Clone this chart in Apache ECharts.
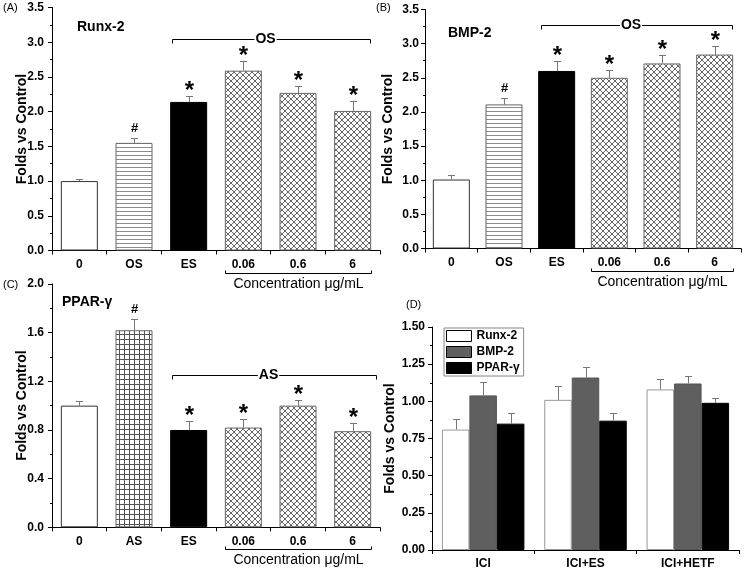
<!DOCTYPE html>
<html><head><meta charset="utf-8">
<script src="https://cdn.jsdelivr.net/npm/echarts@6/dist/echarts.min.js"></script>
<style>html,body{margin:0;padding:0;background:#fff}#c{width:746px;height:570px}</style>
</head><body><div id="c"></div>
<script>
const FONT = '"Liberation Sans", Arial, sans-serif';
// ---------- data ----------
const catsA = ['0', 'OS', 'ES', '0.06', '0.6', '6'];
const catsB = ['0', 'OS', 'ES', '0.06', '0.6', '6'];
const catsC = ['0', 'AS', 'ES', '0.06', '0.6', '6'];
const runx2Vals = [1.00, 1.55, 2.14, 2.59, 2.27, 2.01];
const runx2Err  = [0.03, 0.07, 0.09, 0.14, 0.10, 0.14];
const runx2Marks = ['', '#', '*', '*', '*', '*'];
const bmp2Vals = [1.01, 2.11, 2.60, 2.50, 2.71, 2.84];
const bmp2Err  = [0.07, 0.10, 0.15, 0.11, 0.12, 0.12];
const bmp2Marks = ['', '#', '*', '*', '*', '*'];
const pparVals = [1.00, 1.62, 0.80, 0.82, 1.00, 0.79];
const pparErr  = [0.04, 0.09, 0.07, 0.07, 0.05, 0.07];
const pparMarks = ['', '#', '*', '*', '*', '*'];
const catsD = ['ICI', 'ICI+ES', 'ICI+HETF'];
const namesD = ['Runx-2', 'BMP-2', 'PPAR-γ'];
const dRunx2 = [0.81, 1.01, 1.08];
const dRunx2Err = [0.07, 0.09, 0.07];
const dBmp2 = [1.04, 1.16, 1.12];
const dBmp2Err = [0.09, 0.07, 0.05];
const dPpar = [0.85, 0.87, 0.99];
const dPparErr = [0.07, 0.05, 0.03];
const yScaleA = {min: 0, max: 3.5, interval: 0.5, dec: 1};
const yScaleB = {min: 0, max: 3.5, interval: 0.5, dec: 1};
const yScaleC = {min: 0, max: 2.0, interval: 0.4, dec: 1};
const yScaleD = {min: 0, max: 1.5, interval: 0.25, dec: 2};
const bracketA = {from: 2, to: 5, y: 3.05, text: 'OS'};
const bracketB = {from: 2, to: 5, y: 3.27, text: 'OS'};
const bracketC = {from: 2, to: 5, y: 1.25, text: 'AS'};
const concLabel = 'Concentration μg/mL';
const concRange = {from: 3, to: 5};

// ---------- patterns ----------
function tile(w, h, draw) {
  const c = document.createElement('canvas'); c.width = w; c.height = h;
  const g = c.getContext('2d'); g.fillStyle = '#fff'; g.fillRect(0, 0, w, h); draw(g);
  return {image: c, repeat: 'repeat'};
}
const patHoriz = tile(4, 4, g => { g.fillStyle = '#8a8a8a'; g.fillRect(0, 3, 4, 1); });
const patGrid = tile(5, 5, g => { g.fillStyle = '#555'; g.fillRect(0, 4, 5, 1); g.fillRect(4, 0, 1, 5); });
const patCross = tile(6, 6, g => { g.fillStyle = '#666'; for (let i = 0; i < 6; i++) { g.fillRect(i, i, 1, 1); g.fillRect(5 - i, i, 1, 1); } });

function barStyles(secondPat) {
  return [
    {color: '#fff', borderColor: '#333', borderWidth: 1},
    {color: secondPat, borderColor: '#666', borderWidth: 1},
    {color: '#000', borderColor: '#000', borderWidth: 1},
    {color: patCross, borderColor: '#666', borderWidth: 1},
    {color: patCross, borderColor: '#666', borderWidth: 1},
    {color: patCross, borderColor: '#666', borderWidth: 1}
  ];
}

function barSeries(gi, vals, styles, bw) {
  return {type: 'bar', xAxisIndex: gi, yAxisIndex: gi, barWidth: bw, silent: true,
    data: vals.map((v, i) => ({value: v, itemStyle: styles[i]}))};
}

function errSeries(gi, vals, errs, marks, offPx) {
  return {type: 'custom', xAxisIndex: gi, yAxisIndex: gi, silent: true, clip: false, z: 5,
    data: vals.map((v, i) => [i, v, errs[i]]),
    renderItem(params, api) {
      const i = api.value(0), v = api.value(1), e = api.value(2);
      const b = api.coord([i, v]), t = api.coord([i, v + e]);
      const x = Math.round(b[0] + offPx) + 0.5, yt = Math.round(t[1]) + 0.5;
      const ch = [
        {type: 'line', shape: {x1: x, y1: b[1], x2: x, y2: yt}, style: {stroke: '#777', lineWidth: 1}},
        {type: 'line', shape: {x1: x - 3.5, y1: yt, x2: x + 3.5, y2: yt}, style: {stroke: '#777', lineWidth: 1}}
      ];
      const m = marks ? marks[params.dataIndex] : '';
      if (m === '*') ch.push({type: 'text', style: {text: '*', x: x, y: yt - 5, align: 'center', verticalAlign: 'middle', font: 'bold 24px ' + FONT, fill: '#000'}});
      else if (m) ch.push({type: 'text', style: {text: m, x: x, y: yt - 10, align: 'center', verticalAlign: 'middle', font: 'bold 13px ' + FONT, fill: '#000'}});
      return {type: 'group', children: ch};
    }};
}

function bracketSeries(gi, br, extR) {
  return {type: 'custom', xAxisIndex: gi, yAxisIndex: gi, silent: true, clip: false, z: 6,
    data: [[br.from, br.y]],
    renderItem(params, api) {
      const w = api.size([1, 0])[0];
      const p1 = api.coord([br.from, br.y]), p2 = api.coord([br.to, br.y]);
      const x1 = Math.round(p1[0] - 0.3 * w) + 0.5, x2 = Math.round(p2[0] + extR * w) + 0.5, y = Math.round(p1[1]) + 0.5;
      return {type: 'group', children: [
        {type: 'polyline', shape: {points: [[x1, y + 4], [x1, y], [x2, y], [x2, y + 4]]}, style: {stroke: '#000', lineWidth: 1, fill: null}},
        {type: 'text', style: {text: br.text, x: (x1 + x2) / 2 - 6, y: y, align: 'center', verticalAlign: 'middle', font: 'bold 14px ' + FONT, fill: '#000', backgroundColor: '#fff', padding: [0, 1]}}
      ]};
    }};
}

function concSeries(gi) {
  return {type: 'custom', xAxisIndex: gi, yAxisIndex: gi, silent: true, clip: false, z: 6,
    data: [[concRange.from, 0]],
    renderItem(params, api) {
      const w = api.size([1, 0])[0];
      const p1 = api.coord([concRange.from, 0]), p2 = api.coord([concRange.to, 0]);
      const x1 = Math.round(p1[0] - 0.34 * w) + 0.5, x2 = Math.round(p2[0] + 0.34 * w) + 0.5, y = Math.round(p1[1] + 22) + 0.5;
      return {type: 'group', children: [
        {type: 'polyline', shape: {points: [[x1, y - 3], [x1, y], [x2, y], [x2, y - 3]]}, style: {stroke: '#000', lineWidth: 1, fill: null}},
        {type: 'text', style: {text: concLabel, x: (x1 + x2) / 2, y: y + 11, align: 'center', verticalAlign: 'middle', font: '14px ' + FONT, fill: '#000'}}
      ]};
    }};
}

function xAxis(gi, data) {
  return {type: 'category', gridIndex: gi, data,
    axisLine: {lineStyle: {color: '#000', width: 1}},
    axisTick: {show: true, length: 4, lineStyle: {color: '#000'}},
    axisLabel: {fontWeight: 'bold', fontSize: 12, fontFamily: FONT, color: '#000', margin: 8},
    splitLine: {show: false}};
}
function yAxis(gi, sc, nameGap, margin) {
  return {type: 'value', gridIndex: gi, min: sc.min, max: sc.max, interval: sc.interval,
    name: 'Folds vs Control', nameLocation: 'middle', nameGap, nameMoveOverlap: false,
    nameTextStyle: {fontWeight: 'bold', fontSize: 14, fontFamily: FONT, color: '#000'},
    axisLine: {show: true, lineStyle: {color: '#000', width: 1}},
    axisTick: {show: true, length: 4, lineStyle: {color: '#000'}},
    minorTick: {show: true, splitNumber: 2, length: 2, lineStyle: {color: '#000'}},
    splitLine: {show: false}, minorSplitLine: {show: false},
    axisLabel: {fontWeight: 'bold', fontSize: 12, fontFamily: FONT, color: '#000', margin, formatter: v => v.toFixed(sc.dec)}};
}
function t(text, left, top, size, bold) {
  return {text, left, top, padding: 0, textStyle: {fontSize: size, fontWeight: bold ? 'bold' : 'normal', fontFamily: FONT, color: '#000'}};
}

const dStyles = [
  {color: '#fff', borderColor: '#999', borderWidth: 1},
  {color: '#5f5f5f', borderColor: '#555', borderWidth: 1},
  {color: '#000', borderColor: '#000', borderWidth: 1}
];
const dVals = [dRunx2, dBmp2, dPpar];
const dErrs = [dRunx2Err, dBmp2Err, dPparErr];
const DBW = 27.5;

const chart = echarts.init(document.getElementById('c'), null, {renderer: 'canvas'});
const option = {
  animation: false,
  backgroundColor: '#fff',
  title: [
    t('(A)', 3, 2, 11, false), t('Runx-2', 77, 20, 14, true),
    t('(B)', 376, 2, 11, false), t('BMP-2', 448, 26, 14, true),
    t('(C)', 3, 279, 11, false), t('PPAR-γ', 62, 295, 14, true),
    t('(D)', 406, 299, 11, false)
  ],
  legend: {
    data: namesD, left: 444, top: 328, orient: 'vertical', icon: 'rect',
    itemWidth: 25, itemHeight: 11, itemGap: 4, padding: [2, 4, 2, 2],
    borderColor: '#888', borderWidth: 1, backgroundColor: '#fff',
    itemStyle: {borderColor: '#000', borderWidth: 1},
    textStyle: {fontWeight: 'bold', fontSize: 12, fontFamily: FONT, color: '#000'}
  },
  grid: [
    {left: 52, top: 7.5, width: 328, height: 243},
    {left: 425, top: 9.5, width: 316, height: 239},
    {left: 52, top: 284, width: 328, height: 243.3},
    {left: 432, top: 327, width: 307, height: 223}
  ],
  xAxis: [xAxis(0, catsA), xAxis(1, catsB), xAxis(2, catsC), xAxis(3, catsD)],
  yAxis: [yAxis(0, yScaleA, 23, 8), yAxis(1, yScaleB, 30, 6), yAxis(2, yScaleC, 23, 8), yAxis(3, yScaleD, 35, 7)],
  series: [
    barSeries(0, runx2Vals, barStyles(patHoriz), 37),
    errSeries(0, runx2Vals, runx2Err, runx2Marks, 0),
    bracketSeries(0, bracketA, 0.32),
    concSeries(0),
    barSeries(1, bmp2Vals, barStyles(patHoriz), 37),
    errSeries(1, bmp2Vals, bmp2Err, bmp2Marks, 0),
    bracketSeries(1, bracketB, 0.33),
    concSeries(1),
    barSeries(2, pparVals, barStyles(patGrid), 37),
    errSeries(2, pparVals, pparErr, pparMarks, 0),
    bracketSeries(2, bracketC, 0.42),
    concSeries(2)
  ].concat(namesD.map((n, k) => ({
    type: 'bar', name: n, xAxisIndex: 3, yAxisIndex: 3, barWidth: DBW, barGap: '0%', silent: true,
    itemStyle: dStyles[k], data: dVals[k]
  }))).concat(namesD.map((n, k) => errSeries(3, dVals[k], dErrs[k], null, (k - 1) * DBW)))
};
chart.setOption(option);
</script></body></html>
